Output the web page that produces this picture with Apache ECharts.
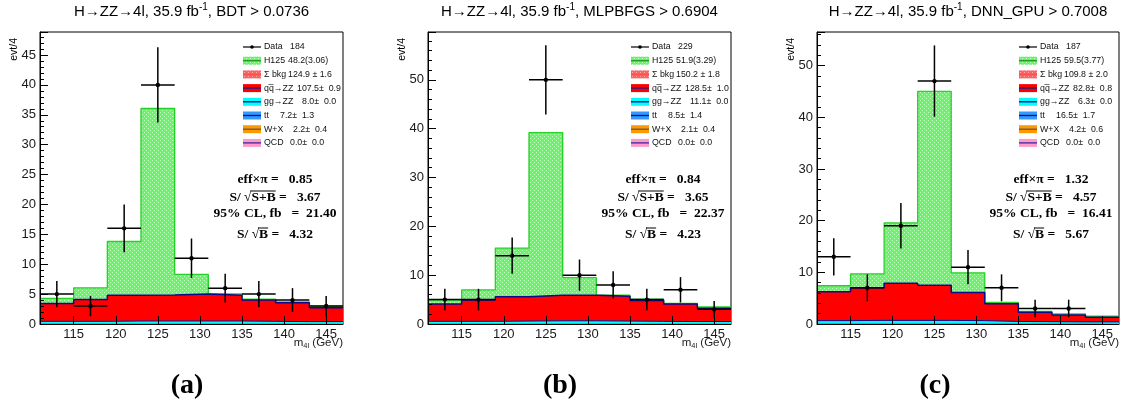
<!DOCTYPE html>
<html><head><meta charset="utf-8">
<script src="https://cdn.jsdelivr.net/npm/echarts@6/dist/echarts.min.js"></script>
<style>html,body{margin:0;padding:0;background:#fff}#c{width:1125px;height:414px}</style>
</head><body><div id="c"></div>
<script>
// ---------- data ----------
const binEdges = [111,115,119,123,127,131,135,139,143,147];
const xTickValues = [115,120,125,130,135,140,145];

// (a) BDT > 0.0736
const dataA = [5,3,16,40,11,6,5,4,3];
const errA  = [2.2,1.7,4.0,6.3,3.3,2.4,2.2,2.0,1.7];
const h125A = [0.85,1.95,9.0,31.2,3.3,0.25,0.15,0.15,0.3];
const qqA   = [3.0,3.65,4.3,4.35,4.5,4.3,3.55,3.15,2.3];
const ggA   = [0.35,0.35,0.4,0.4,0.4,0.4,0.35,0.3,0.3];
const ttA   = [0.1,0.1,0.1,0.1,0.1,0.1,0.1,0.1,0.1];

// (b) MLPBFGS > 0.6904
const dataB = [5,5,14,50,10,8,5,7,3];
const errB  = [2.2,2.2,3.7,7.1,3.2,2.8,2.2,2.6,1.7];
const h125B = [0.8,2.1,9.95,33.3,3.6,0.2,0.3,0.1,0.3];
const qqB   = [3.55,4.35,5.0,5.25,5.25,5.1,4.25,3.6,2.7];
const ggB   = [0.45,0.45,0.5,0.55,0.55,0.5,0.45,0.4,0.4];
const ttB   = [0.1,0.1,0.1,0.1,0.1,0.1,0.1,0.1,0.1];

// (c) DNN_GPU > 0.7008
const dataC = [13,7,19,47,11,7,3,3,null];
const errC  = [3.6,2.6,4.4,6.9,3.3,2.6,1.7,1.7,null];
const h125C = [1.15,2.7,11.65,37.5,3.8,0.3,0.2,0.2,0.2];
const qqC   = [5.6,6.3,7.2,6.8,5.45,3.4,1.8,1.35,0.9];
const ggC   = [0.5,0.55,0.55,0.55,0.5,0.35,0.3,0.25,0.25];
const ttC   = [0.15,0.15,0.15,0.15,0.15,0.15,0.15,0.15,0.15];

const titleCuts = ['BDT > 0.0736','MLPBFGS > 0.6904','DNN_GPU > 0.7008'];
const panelTags = ['(a)','(b)','(c)'];
const yMaxes = [48.85, 59.8, 56.5];
const yIntervals = [5, 10, 10];

const legendNames = ['Data','H125','\u03A3 bkg','qq\u0305\u2192ZZ','gg\u2192ZZ','tt','W+X','QCD'];
const legendValsA = ['184','48.2(3.06)','124.9 \u00B1 1.6','107.5\u00B1  0.9','8.0\u00B1  0.0','7.2\u00B1  1.3','2.2\u00B1  0.4','0.0\u00B1  0.0'];
const legendValsB = ['229','51.9(3.29)','150.2 \u00B1 1.8','128.5\u00B1  1.0','11.1\u00B1  0.0','8.5\u00B1  1.4','2.1\u00B1  0.4','0.0\u00B1  0.0'];
const legendValsC = ['187','59.5(3.77)','109.8 \u00B1 2.0','82.8\u00B1  0.8','6.3\u00B1  0.0','16.5\u00B1  1.7','4.2\u00B1  0.6','0.0\u00B1  0.0'];

const statsA = ['0.85','3.67','21.40','4.32'];
const statsB = ['0.84','3.65','22.37','4.23'];
const statsC = ['1.32','4.57','16.41','5.67'];

// ---------- layout / style ----------
const panels = [
  {data:dataA, err:errA, h:h125A, qq:qqA, gg:ggA, tt:ttA, leg:legendValsA, stats:statsA},
  {data:dataB, err:errB, h:h125B, qq:qqB, gg:ggB, tt:ttB, leg:legendValsB, stats:statsB},
  {data:dataC, err:errC, h:h125C, qq:qqC, gg:ggC, tt:ttC, leg:legendValsC, stats:statsC}
];
const gridBoxes = [{left:40,width:303},{left:428,width:303},{left:817,width:302}];
const TOP = 32, BOTTOM = 324;
const SANS = '"Liberation Sans", Arial, sans-serif';

function makePattern(base, dot){
  const c = document.createElement('canvas'); c.width = 4; c.height = 4;
  const g = c.getContext('2d');
  g.fillStyle = base; g.fillRect(0,0,4,4);
  g.fillStyle = dot; g.fillRect(0,0,1,1); g.fillRect(2,2,1,1);
  return c;
}
const greenPat = {image: makePattern('#6af46a','#c4fcc4'), repeat:'repeat'};
const redPat = {image: makePattern('#ff6060','#ffaaaa'), repeat:'repeat'};

const measureCtx = document.createElement('canvas').getContext('2d');
function tw(font, s){ measureCtx.font = font; return measureCtx.measureText(s).width; }

function cum(){ const arrs = Array.from(arguments); return arrs[0].map((_,k)=>arrs.reduce((s,a)=>s+a[k],0)); }
function stepData(vals){ return binEdges.map((e,k)=>[e, vals[Math.min(k, vals.length-1)]]); }

const grid = [], xAxis = [], yAxis = [], series = [], graphic = [];

panels.forEach((p, i) => {
  const gb = gridBoxes[i];
  grid.push({left:gb.left, width:gb.width, top:TOP, height:BOTTOM-TOP, show:true, borderColor:'#000', borderWidth:1, backgroundColor:'#fff', z:0});
  xAxis.push({type:'value', gridIndex:i, min:binEdges[0], max:binEdges[binEdges.length-1], z:20,
    axisLine:{show:true, lineStyle:{color:'#000', width:1}},
    axisTick:{show:true, inside:true, length:8, customValues:xTickValues, lineStyle:{color:'#000'}},
    axisLabel:{show:true, customValues:xTickValues, margin:4, color:'#1a1a1a', fontSize:13, fontFamily:SANS},
    splitLine:{show:false}});
  yAxis.push({type:'value', gridIndex:i, min:0, max:yMaxes[i], interval:yIntervals[i], z:20,
    axisLine:{show:true, lineStyle:{color:'#000', width:1}},
    axisTick:{show:true, inside:true, length:8, lineStyle:{color:'#000'}},
    minorTick:{show:true, splitNumber:5, length:4, lineStyle:{color:'#000'}},
    axisLabel:{show:true, margin:4, color:'#1a1a1a', fontSize:13, showMaxLabel:false, fontFamily:SANS},
    splitLine:{show:false}, minorSplitLine:{show:false}});

  const cTT = p.tt;
  const cGG = cum(p.tt, p.gg);
  const cQQ = cum(p.tt, p.gg, p.qq);
  const cH  = cum(p.tt, p.gg, p.qq, p.h);
  const layers = [
    {vals:cH,  fill:greenPat,  line:'#2ad02a', w:1.3, z:2},
    {vals:cQQ, fill:'#ff0000', line:'#0a0a8c', w:1.5, z:3},
    {vals:cGG, fill:'#00ffff', line:'#0a0a8c', w:1.0, z:4},
    {vals:cTT, fill:'#3399ff', line:'#3399ff', w:0.5, z:5}
  ];
  layers.forEach(L => series.push({type:'line', xAxisIndex:i, yAxisIndex:i, step:'end', symbol:'none', z:L.z,
    data: stepData(L.vals), lineStyle:{color:L.line, width:L.w}, areaStyle:{color:L.fill, opacity:1}, silent:true, animation:false}));

  series.push({type:'custom', xAxisIndex:i, yAxisIndex:i, z:10, animation:false, silent:true,
    encode:{x:0, y:1},
    data: p.data.map((v,k)=> v==null ? null : [(binEdges[k]+binEdges[k+1])/2, v, p.err[k], binEdges[k], binEdges[k+1]]).filter(d=>d),
    renderItem(params, api){
      const x=api.value(0), y=api.value(1), e=api.value(2), x0=api.value(3), x1=api.value(4);
      const pc=api.coord([x,y]), pl=api.coord([x0,y]), pr=api.coord([x1,y]), pt=api.coord([x,y+e]), pb=api.coord([x,y-e]);
      const st={stroke:'#000', lineWidth:1.5};
      return {type:'group', children:[
        {type:'line', shape:{x1:pl[0],y1:pl[1],x2:pr[0],y2:pr[1]}, style:st},
        {type:'line', shape:{x1:pt[0],y1:pt[1],x2:pb[0],y2:pb[1]}, style:st},
        {type:'circle', shape:{cx:pc[0],cy:pc[1],r:2.2}, style:{fill:'#000'}}
      ]};
    }});

  const right = gb.left + gb.width;
  const cx = gb.left + gb.width/2;
  // title
  graphic.push({type:'text', x:cx, y:12, style:{
    text:'{m|H\u2192ZZ\u21924l, 35.9 fb}{s|-1}{m|, ' + titleCuts[i] + '}',
    align:'center', verticalAlign:'middle',
    rich:{m:{fontSize:15, fontFamily:SANS, fill:'#000'},
          s:{fontSize:10, fontFamily:SANS, fill:'#000', padding:[0,0,9,0]}}}});
  // y title
  graphic.push({type:'text', x:gb.left - 26, y:38, rotation:Math.PI/2, style:{text:'evt/4', align:'right', verticalAlign:'middle', fontSize:10.5, fontFamily:SANS, fill:'#000'}});
  // x title
  graphic.push({type:'text', x:right, y:343, style:{text:'{m|m}{s|4l}{m| (GeV)}', align:'right', verticalAlign:'middle',
    rich:{m:{fontSize:11.5, fontFamily:SANS, fill:'#222'},
          s:{fontSize:7.5, fontFamily:SANS, fill:'#222', padding:[6,0,0,0]}}}});
  // panel tag
  graphic.push({type:'text', x:[187,560,935][i], y:386, style:{text:panelTags[i], align:'center', verticalAlign:'middle', font:'bold 28px "Liberation Serif", "DejaVu Serif", serif', fill:'#000'}});

  // legend
  const sx = right - 100, rowY0 = 47, rowH = 13.7;
  const valOffsets = [26,24,24,33,38,16,29,26];
  const sw = [
    null,
    {fill:greenPat, line:'#1a9a1a'},
    {fill:redPat, line:'#ff5050'},
    {fill:'#ff0000', line:'#2a1a7a'},
    {fill:'#00ffff', line:'#0a0a8c'},
    {fill:'#3399ff', line:'#0a0a8c'},
    {fill:'#ff9900', line:'#6a5a4a'},
    {fill:'#ff99cc', line:'#3a2a9a'}
  ];
  const lf = '8.8px "Liberation Sans", Arial, sans-serif';
  legendNames.forEach((nm, r) => {
    const y = rowY0 + r*rowH;
    if (r === 0) {
      graphic.push({type:'line', shape:{x1:sx, y1:y, x2:sx+18, y2:y}, style:{stroke:'#000', lineWidth:1.2}});
      graphic.push({type:'circle', shape:{cx:sx+9, cy:y, r:1.8}, style:{fill:'#000'}});
    } else {
      graphic.push({type:'rect', shape:{x:sx, y:y-4, width:18, height:8}, style:{fill:sw[r].fill}});
      graphic.push({type:'line', shape:{x1:sx, y1:y, x2:sx+18, y2:y}, style:{stroke:sw[r].line, lineWidth:1.3}});
    }
    graphic.push({type:'text', x:sx+21, y:y, style:{text:nm, font:lf, fill:'#111', verticalAlign:'middle'}});
    graphic.push({type:'text', x:sx+21+valOffsets[r], y:y, style:{text:p.leg[r], font:lf, fill:'#111', verticalAlign:'middle'}});
  });

  // stats box
  const sf = 'bold 13.5px "Liberation Serif", "Times New Roman", serif';
  const scx = right - 68;
  const lines = [
    {pre:'eff\u00D7\u03C0 =   ' + p.stats[0], y:180},
    {pre:'S/ \u221A', over:'S+B', post:' =   ' + p.stats[1], y:198},
    {pre:'95% CL, fb   =  ' + p.stats[2], y:214},
    {pre:'S/ \u221A', over:'B', post:' =   ' + p.stats[3], y:235}
  ];
  lines.forEach(L => {
    const full = L.pre + (L.over||'') + (L.post||'');
    const W = tw(sf, full);
    const x0 = scx - W/2;
    graphic.push({type:'text', x:x0, y:L.y, style:{text:full, font:sf, fill:'#000', verticalAlign:'middle'}});
    if (L.over) {
      const a = x0 + tw(sf, L.pre) - 1, b = x0 + tw(sf, L.pre + L.over);
      graphic.push({type:'line', shape:{x1:a, y1:L.y-7, x2:b, y2:L.y-7}, style:{stroke:'#000', lineWidth:1}});
    }
  });
});

const chart = echarts.init(document.getElementById('c'), null, {renderer:'canvas'});
chart.setOption({animation:false, backgroundColor:'#fff', grid, xAxis, yAxis, series, graphic});
</script>
</body></html>
